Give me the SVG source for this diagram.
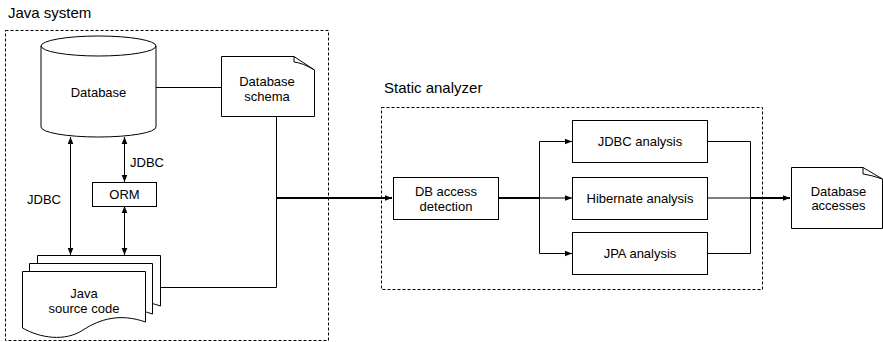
<svg xmlns="http://www.w3.org/2000/svg" width="883" height="342" viewBox="0 0 883 342">
<style>
.t{font-family:"Liberation Sans",Arial,sans-serif;font-size:13px;fill:#000;text-anchor:middle}
.ts{font-family:"Liberation Sans",Arial,sans-serif;font-size:13px;fill:#000}
.ti{font-family:"Liberation Sans",Arial,sans-serif;font-size:15px;fill:#000}
.sh{fill:#fff;stroke:#000;stroke-width:1}
.grp{fill:none;stroke:#000;stroke-width:1;stroke-dasharray:3 2}
.c{fill:none;stroke:#000;stroke-width:1}
.ck{fill:none;stroke:#000;stroke-width:1.8}
</style>
<defs>
<marker id="ah" viewBox="0 0 10 10" refX="10" refY="5" markerWidth="7" markerHeight="7" markerUnits="userSpaceOnUse" orient="auto-start-reverse">
<path d="M0,1 L10,5 L0,9 Z" fill="#000"/>
</marker>
</defs>

<g id="java-system">
<text class="ti" x="8" y="18">Java system</text>
<rect class="grp" x="5.5" y="30.5" width="323" height="310"/>
</g>
<g id="static-analyzer">
<text class="ti" x="384" y="93">Static analyzer</text>
<rect class="grp" x="381.5" y="107.5" width="381" height="182"/>
</g>

<g id="connectors">
<path class="c" d="M156,87.5 H221"/>
<path class="c" d="M276.5,116 V287.5 H160"/>
<path class="ck" d="M276.5,198 H392" marker-end="url(#ah)"/>
<path class="c" d="M70.5,137 V255" marker-start="url(#ah)" marker-end="url(#ah)"/>
<path class="c" d="M124.5,137 V182" marker-start="url(#ah)" marker-end="url(#ah)"/>
<path class="c" d="M124.5,206 V255" marker-start="url(#ah)" marker-end="url(#ah)"/>
<path class="ck" d="M498,198 H539"/>
<path class="c" d="M539.5,198 V141.5 H572" marker-end="url(#ah)"/>
<path class="c" d="M539.5,198 H572" marker-end="url(#ah)"/>
<path class="c" d="M539.5,198 V253.5 H572" marker-end="url(#ah)"/>
<path class="c" d="M708,141.5 H750.5 V198"/>
<path class="c" d="M708,253.5 H750.5 V198"/>
<path class="c" d="M708,198 H750"/>
<path class="ck" d="M750,198 H790" marker-end="url(#ah)"/>
<text class="ts" x="130" y="166.5">JDBC</text>
<text class="ts" x="27" y="203.5">JDBC</text>
</g>

<g id="database">
<path class="sh" d="M41,46 V127 A57.5,10 0 0 0 156,127 V46 A57.5,10 0 0 0 41,46 A57.5,10 0 0 0 156,46"/>
<text class="t" x="98.5" y="96.5">Database</text>
</g>

<g id="database-schema">
<path class="sh" d="M221.5,56.5 H294 L314.5,70 V116.5 H221.5 Z"/>
<path class="c" d="M294,56.5 V62 Q303,63 314.5,70"/>
<text class="t" x="267" y="85.5">Database</text>
<text class="t" x="267" y="100.5">schema</text>
</g>

<g id="orm">
<rect class="sh" x="92.5" y="182.5" width="64" height="24"/>
<text class="t" x="124.5" y="198.5">ORM</text>
</g>

<g id="java-source-code">
<path class="sh" d="M37.5,255.5 H160.5 V306 C135,297 115,303 98,314 C80,326 55,322 37.5,312 Z"/>
<path class="sh" d="M29.5,263.5 H152.5 V314 C127,305 107,311 90,322 C72,334 47,330 29.5,320 Z"/>
<path class="sh" d="M22.5,271.5 H145.5 V322 C120,313 100,319 83,330 C65,342 40,338 22.5,328 Z"/>
<text class="t" x="84" y="297.5">Java</text>
<text class="t" x="84" y="312.5">source code</text>
</g>

<g id="db-access-detection">
<rect class="sh" x="393.5" y="177.5" width="105" height="42"/>
<text class="t" x="446" y="195.5">DB access</text>
<text class="t" x="446" y="210.5">detection</text>
</g>

<g id="jdbc-analysis">
<rect class="sh" x="572.5" y="120.5" width="135" height="42"/>
<text class="t" x="640" y="145.5">JDBC analysis</text>
</g>
<g id="hibernate-analysis">
<rect class="sh" x="572.5" y="177.5" width="135" height="42"/>
<text class="t" x="640" y="202.5">Hibernate analysis</text>
</g>
<g id="jpa-analysis">
<rect class="sh" x="572.5" y="232.5" width="135" height="42"/>
<text class="t" x="640" y="257.5">JPA analysis</text>
</g>

<g id="database-accesses">
<path class="sh" d="M791.5,167.5 H863 L882.5,179 V228.5 H791.5 Z"/>
<path class="c" d="M863,167.5 V174 Q871,175 882.5,179"/>
<text class="t" x="838.5" y="195.5">Database</text>
<text class="t" x="838.5" y="209.5">accesses</text>
</g>
</svg>
